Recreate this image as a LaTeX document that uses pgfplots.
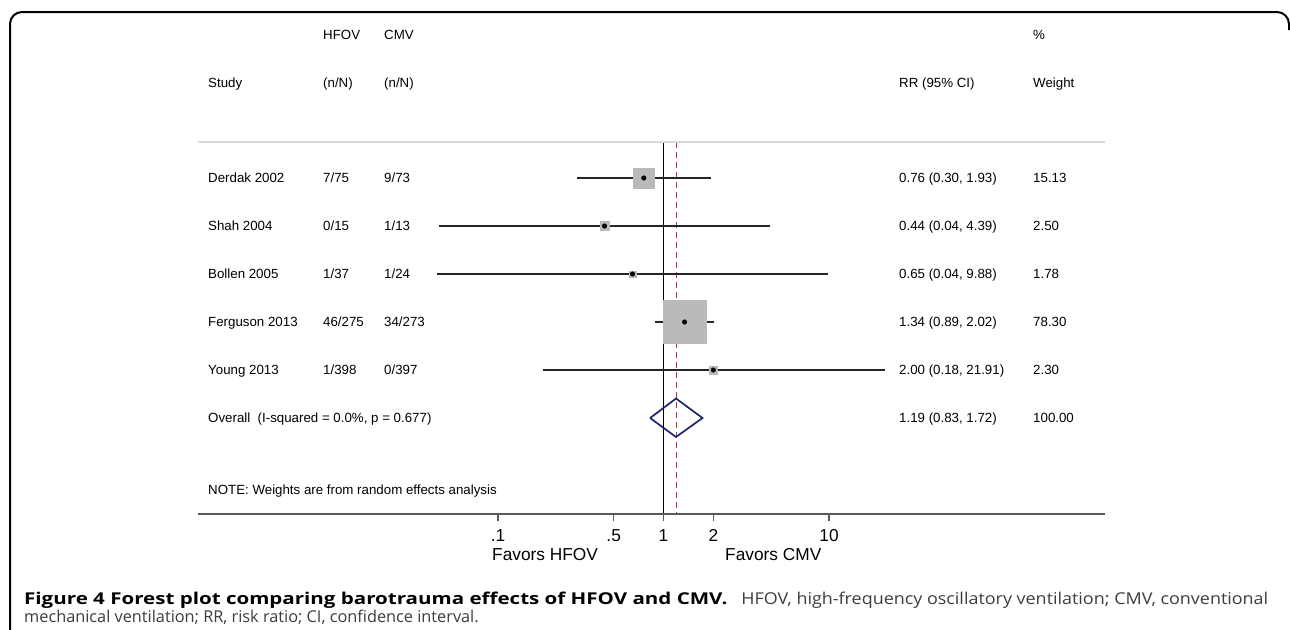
\documentclass[border=0pt]{standalone}
\usepackage{fontspec}
\setmainfont{Liberation Sans}
\newfontfamily\capfont{Open Sans}
\usepackage{pgfplots}
\usepackage{pgfplotstable}
\pgfplotsset{compat=1.18}
\definecolor{boxgray}{RGB}{186,186,186}
\definecolor{sepgray}{RGB}{218,218,218}
\definecolor{axisgray}{RGB}{90,90,90}
\definecolor{navyd}{RGB}{30,35,110}
\definecolor{dashred}{RGB}{175,55,65}
\definecolor{capgray}{RGB}{60,60,60}

\pgfplotstableread{
y rr lo hi
-178 0.76 0.30 1.93
-226 0.44 0.044 4.39
-274 0.65 0.043 9.88
-322 1.34 0.89 2.02
-370 2.00 0.186 21.91
}\studies

\newcommand{\tf}{\fontsize{13.3}{16}\selectfont}
\begin{document}
\begin{tikzpicture}[x=1pt,y=1pt]
\begin{axis}[
  set layers,
  at={(198pt,-514pt)}, anchor=south west,
  scale only axis, width=907pt, height=502pt,
  xmode=log, xmin=0.001539, xmax=465.3,
  ymin=-514, ymax=-12,
  axis x line=bottom, axis y line=none,
  x axis line style={draw=axisgray, line width=2pt, -},
  xtick={0.1,0.5,1,2,10}, xticklabels={.1,.5,1,2,10},
  minor xtick={},
  tick align=outside, major tick length=7pt,
  every tick/.style={axisgray, line width=1.6pt},
  xticklabel style={font=\fontsize{17.3}{18}\selectfont, anchor=base, yshift=-20pt},
  clip=false,
]
% reference lines (beneath the boxes)
\addplot[on layer=axis background, black, line width=1.3pt] coordinates {(1,-142) (1,-514)};
\addplot[on layer=axis background, dashred, line width=1pt, dash pattern=on 6pt off 4pt] coordinates {(1.19,-142) (1.19,-514)};
% weight boxes (side length in px)
\addplot[only marks, color=boxgray, mark=square*, mark size=10.25pt] coordinates {(0.76,-178)};
\addplot[only marks, color=boxgray, mark=square*, mark size=4.5pt] coordinates {(0.44,-226)};
\addplot[only marks, color=boxgray, mark=square*, mark size=3.2pt] coordinates {(0.65,-274)};
\addplot[only marks, color=boxgray, mark=square*, mark size=21.35pt] coordinates {(1.34,-322)};
\addplot[only marks, color=boxgray, mark=square*, mark size=4.3pt] coordinates {(2.00,-370)};
% confidence intervals
\addplot[black!85, line width=1.9pt] coordinates {(0.30,-178) (1.93,-178)};
\addplot[black!85, line width=1.9pt] coordinates {(0.044,-226) (4.39,-226)};
\addplot[black!85, line width=1.9pt] coordinates {(0.043,-274) (9.88,-274)};
\addplot[black!85, line width=1.9pt] coordinates {(0.89,-322) (2.02,-322)};
\addplot[black!85, line width=1.9pt] coordinates {(0.186,-370) (21.91,-370)};
% point estimates
\addplot[only marks, mark=*, mark size=2.3pt, black] table[x=rr, y=y] {\studies};
% overall diamond
\addplot[navyd, line width=1.7pt] coordinates {(0.83,-418) (1.19,-398.5) (1.72,-418) (1.19,-437) (0.83,-418)};
\end{axis}
% separator
\draw[sepgray, line width=2pt] (198,-141.5) -- (1105,-141.5);
% header
\tf
\node[anchor=base west, inner sep=0] at (323,-39.7) {HFOV};
\node[anchor=base west, inner sep=0] at (384,-39.7) {CMV};
\node[anchor=base west, inner sep=0] at (1033,-39.7) {\%};
\node[anchor=base west, inner sep=0] at (208,-87) {Study};
\node[anchor=base west, inner sep=0] at (323,-87) {(n/N)};
\node[anchor=base west, inner sep=0] at (384,-87) {(n/N)};
\node[anchor=base west, inner sep=0] at (899,-87) {RR (95\% CI)};
\node[anchor=base west, inner sep=0] at (1033,-87) {Weight};
% rows
\foreach \yy/\st/\a/\b/\rr/\w in {
  182.7/Derdak 2002/7\slash 75/9\slash 73/{0.76 (0.30, 1.93)}/15.13,
  230.7/Shah 2004/0\slash 15/1\slash 13/{0.44 (0.04, 4.39)}/2.50,
  278.7/Bollen 2005/1\slash 37/1\slash 24/{0.65 (0.04, 9.88)}/1.78,
  326.7/Ferguson 2013/46\slash 275/34\slash 273/{1.34 (0.89, 2.02)}/78.30,
  374.7/Young 2013/1\slash 398/0\slash 397/{2.00 (0.18, 21.91)}/2.30}{
  \node[anchor=base west, inner sep=0] at (208,-\yy) {\st};
  \node[anchor=base west, inner sep=0] at (323,-\yy) {\a};
  \node[anchor=base west, inner sep=0] at (384,-\yy) {\b};
  \node[anchor=base west, inner sep=0] at (899,-\yy) {\rr};
  \node[anchor=base west, inner sep=0] at (1033,-\yy) {\w};
}
\node[anchor=base west, inner sep=0] at (208,-422.7) {Overall\ \ (I-squared = 0.0\%, p = 0.677)};
\node[anchor=base west, inner sep=0] at (899,-422.7) {1.19 (0.83, 1.72)};
\node[anchor=base west, inner sep=0] at (1033,-422.7) {100.00};
\node[anchor=base west, inner sep=0] at (208,-494.5) {NOTE: Weights are from random effects analysis};
% favours labels
\node[anchor=base west, inner sep=0, font=\fontsize{17.3}{18}\selectfont] at (492,-560) {Favors HFOV};
\node[anchor=base west, inner sep=0, font=\fontsize{17.3}{18}\selectfont] at (725,-560) {Favors CMV};
% frame
\draw[black, line width=2pt] (10,-640) -- (10,-24) arc[start angle=180, end angle=90, radius=12] -- (1277,-12) arc[start angle=90, end angle=0, radius=12] -- (1289,-30);
% caption
\node[anchor=base west, inner sep=0, font=\capfont\fontsize{16.3}{19}\selectfont] at (24,-604) {\makebox[1244pt][s]{\scalebox{1.26}[1]{\textbf{Figure 4 Forest plot comparing barotrauma effects of HFOV and CMV.}} \scalebox{1.1}[1]{\textcolor{capgray}{HFOV, high-frequency oscillatory ventilation; CMV, conventional}}}};
\node[anchor=base west, inner sep=0, font=\capfont\fontsize{16.3}{19}\selectfont, text=capgray] at (24,-622) {mechanical ventilation; RR, risk ratio; CI, confidence interval.};
\pgfresetboundingbox
\useasboundingbox (0,0) rectangle (1290,-629);
\end{tikzpicture}
\end{document}
